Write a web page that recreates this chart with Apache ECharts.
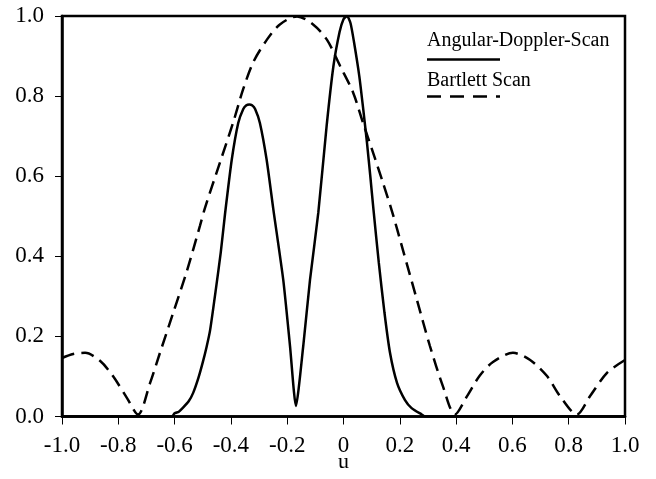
<!DOCTYPE html>
<html>
<head>
<meta charset="utf-8">
<script src="https://cdn.jsdelivr.net/npm/echarts@6/dist/echarts.min.js"></script>
<style>html,body{margin:0;padding:0;background:#fff}#c{width:656px;height:479px}</style>
</head>
<body>
<div id="c"></div>
<script>
// Bartlett Scan (dashed)
const bartlettU = [-1.0,-0.96,-0.918,-0.865,-0.819,-0.769,-0.730,-0.687,-0.652,-0.605,-0.556,-0.510,-0.492,-0.439,-0.392,-0.357,-0.321,-0.272,-0.226,-0.165,-0.108,-0.059,-0.012,0.034,0.069,0.105,0.140,0.172,0.211,0.261,0.307,0.353,0.396,0.439,0.485,0.531,0.602,0.663,0.723,0.769,0.829,0.876,0.936,1.0];
const bartlettV = [0.146,0.156,0.159,0.139,0.101,0.046,0.005,0.084,0.159,0.259,0.364,0.476,0.521,0.634,0.734,0.816,0.884,0.941,0.979,0.999,0.979,0.941,0.875,0.809,0.734,0.659,0.584,0.513,0.416,0.291,0.176,0.076,0.005,0.051,0.103,0.136,0.159,0.141,0.101,0.051,0.005,0.051,0.109,0.141];
// Angular-Doppler-Scan (solid)
const adsU = [-1.0,-0.61,-0.600,-0.585,-0.570,-0.550,-0.534,-0.516,-0.500,-0.486,-0.474,-0.453,-0.436,-0.421,-0.397,-0.374,-0.356,-0.345,-0.335,-0.325,-0.314,-0.297,-0.273,-0.249,-0.214,-0.190,-0.169,-0.143,-0.119,-0.0895,-0.060,-0.036,-0.014,0.000,0.0124,0.025,0.0373,0.0561,0.0703,0.0835,0.0952,0.1066,0.1254,0.1456,0.1652,0.1901,0.2185,0.242,0.278,0.29,1.0];
const adsV = [0,0,0.008,0.012,0.022,0.038,0.059,0.095,0.135,0.175,0.215,0.320,0.410,0.505,0.641,0.733,0.768,0.777,0.779,0.777,0.768,0.733,0.641,0.516,0.341,0.176,0.026,0.176,0.341,0.509,0.725,0.874,0.960,0.992,1.0,0.982,0.935,0.850,0.766,0.683,0.600,0.516,0.384,0.259,0.159,0.084,0.041,0.021,0.005,0,0];
const xTicks = ['-1.0','-0.8','-0.6','-0.4','-0.2','0','0.2','0.4','0.6','0.8','1.0'];
const yTicks = ['0.0','0.2','0.4','0.6','0.8','1.0'];
const seriesNames = ['Angular-Doppler-Scan','Bartlett Scan'];

const FONT = '"Liberation Serif", "Times New Roman", serif';
const chart = echarts.init(document.getElementById('c'), null, {renderer:'canvas'});
const zip = (a,b) => a.map((x,i)=>[x,b[i]]);
chart.setOption({
  animation:false,
  backgroundColor:'#fff',
  grid:{left:62,right:31,top:16,bottom:62.5,outerBoundsMode:'none',containLabel:false,show:true,borderColor:'#000',borderWidth:2.5,backgroundColor:'transparent'},
  xAxis:{type:'value',min:-1,max:1,interval:0.2,name:'u',nameLocation:'middle',nameGap:35,nameMoveOverlap:false,
    nameTextStyle:{fontFamily:FONT,fontSize:22,color:'#000'},
    axisLine:{show:true,onZero:false,lineStyle:{color:'#000',width:2.5}},
    axisTick:{show:true,inside:false,length:8,lineStyle:{color:'#000',width:1}},
    axisLabel:{margin:18,fontFamily:FONT,fontSize:23,color:'#000',
      formatter:(v)=>{const i=Math.round((v+1)/0.2);return xTicks[i];}},
    splitLine:{show:false}},
  yAxis:{type:'value',min:0,max:1,interval:0.2,
    axisLine:{show:true,onZero:false,lineStyle:{color:'#000',width:2.5}},
    axisTick:{show:true,inside:false,length:7,lineStyle:{color:'#000',width:1}},
    axisLabel:{margin:18,fontFamily:FONT,fontSize:23,color:'#000',
      formatter:(v)=>yTicks[Math.round(v/0.2)]},
    splitLine:{show:false}},
  series:[
    {name:seriesNames[0],type:'line',data:zip(adsU,adsV),showSymbol:false,smooth:0.2,
      lineStyle:{color:'#000',width:2.5,type:'solid'}},
    {name:seriesNames[1],type:'line',data:zip(bartlettU,bartlettV),showSymbol:false,smooth:0.3,
      lineStyle:{color:'#000',width:2.5,type:[13,7]}}
  ],
  graphic:[
    {type:'text',left:427,top:31,style:{text:seriesNames[0],font:'20px '+FONT,fill:'#000'}},
    {type:'line',shape:{x1:427,y1:59.5,x2:500,y2:59.5},style:{stroke:'#000',lineWidth:2.5}},
    {type:'text',left:427,top:71,style:{text:seriesNames[1],font:'20px '+FONT,fill:'#000'}},
    {type:'line',shape:{x1:427,y1:96.5,x2:500,y2:96.5},style:{stroke:'#000',lineWidth:2.5,lineDash:[14,9]}}
  ]
});
</script>
</body>
</html>
